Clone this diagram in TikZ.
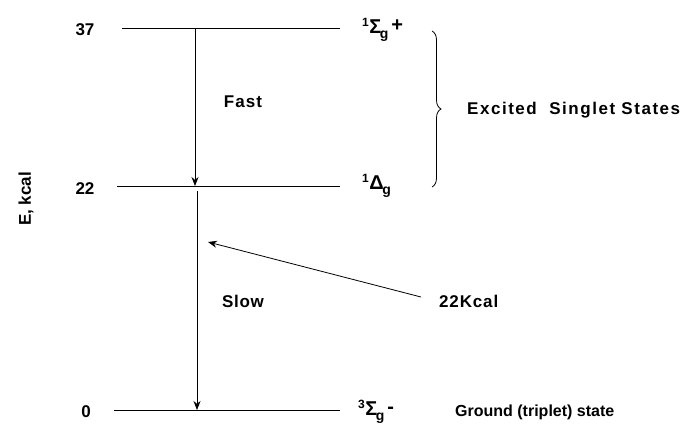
\documentclass[tikz,border=0pt]{standalone}
\usepackage{fontspec}
\setmainfont{Liberation Sans}
\usetikzlibrary{arrows.meta,decorations.pathreplacing}
\newcommand{\termsym}[4]{\raisebox{7pt}{\fontsize{12}{12}\selectfont #1}\kern0.5pt#2\kern-1.5pt\raisebox{-5pt}{\fontsize{14}{14}\selectfont #3}\kern3pt\raisebox{2pt}{\fontsize{20}{20}\selectfont #4}}
\begin{document}
\begin{tikzpicture}[x=1pt,y=-1pt,
  level/.style={line width=1pt},
  lbl/.style={font=\bfseries\fontsize{17}{19}\selectfont, inner sep=0pt},
  term/.style={font=\bfseries\fontsize{20}{22}\selectfont, inner sep=0pt, anchor=west},
  trans/.style={line width=0.8pt,-{Stealth[length=9pt,width=7pt]}}]
\useasboundingbox (0,0) rectangle (698,423);
% levels
\coordinate (l37a) at (122,28); \coordinate (l37b) at (340,28);
\coordinate (l22a) at (117,186); \coordinate (l22b) at (340,186);
\coordinate (l0a) at (114,410); \coordinate (l0b) at (340,410);
\draw[level] (l37a) -- (l37b);
\draw[level] (l22a) -- (l22b);
\draw[level] (l0a) -- (l0b);
% energy labels
\node[lbl] (e37) at (85,30) {37};
\node[lbl] (e22) at (85,189) {22};
\node[lbl] (e0) at (86,412) {0};
\node[lbl, rotate=90] (axis) at (26,199) {E, kcal};
% transitions
\coordinate (f1) at (195,29); \coordinate (f2) at (195,186);
\coordinate (s1) at (197,191); \coordinate (s2) at (197,410);
\draw[trans] (f1) -- (f2);
\draw[trans] (s1) -- (s2);
\node[lbl] (fast) at (243,102) {\addfontfeature{LetterSpace=6}Fast};
\node[lbl] (slow) at (243,301) {\addfontfeature{LetterSpace=4}Slow};
% excitation
\node[lbl, anchor=west] (kcal) at (439,301) {\addfontfeature{LetterSpace=5}22Kcal};
\coordinate (kt) at (208,242);
\draw[trans] (421,297) -- (kt);
% term symbols
\node[term] (t1) at (362,30) {\termsym{1}{Σ}{g}{+}};
\node[term] (t2) at (362,186) {\termsym{1}{Δ}{g}{}};
\node[term] (t3) at (358,412) {\termsym{3}{Σ}{g}{-}};
% brace
\coordinate (b1) at (432,31); \coordinate (b2) at (432,187);
\draw[line width=0.8pt, decorate, decoration={brace, amplitude=9pt}] (b1) -- (b2);
\node[lbl, anchor=west] (exc) at (467,110) {\addfontfeature{LetterSpace=9}Excited\ \ Singlet States};
\node[lbl, anchor=west, font=\bfseries\fontsize{16}{18}\selectfont] (gnd) at (455,412) {Ground (triplet) state};
\end{tikzpicture}
\end{document}
